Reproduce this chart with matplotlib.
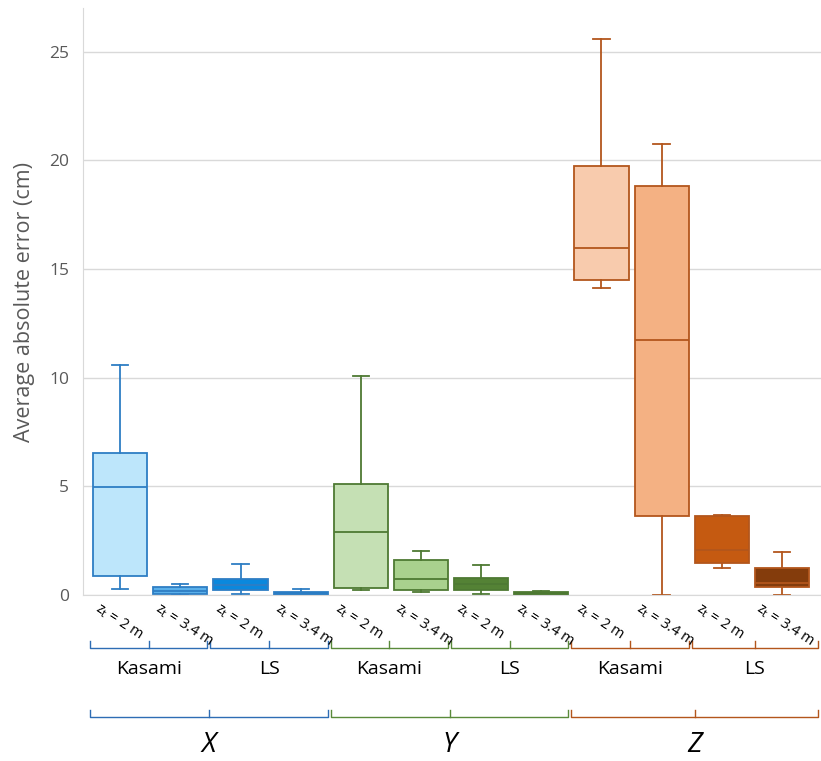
import matplotlib.pyplot as plt
import matplotlib.transforms as mtransforms

plt.rcParams['font.family'] = ['Open Sans', 'DejaVu Sans']

# box statistics (cm)
axes_names = ['X', 'Y', 'Z']
methods = ['Kasami', 'LS']
heights = ['$\\mathregular{z_t}$ = 2 m', '$\\mathregular{z_t}$ = 3.4 m']

whislo = [0.28, 0.00, 0.03, 0.00, 0.23, 0.14, 0.03, 0.00, 14.11, 0.00, 1.24, 0.00]
q1     = [0.87, 0.03, 0.23, 0.02, 0.34, 0.23, 0.23, 0.02, 14.48, 3.63, 1.47, 0.37]
med    = [4.98, 0.20, 0.45, 0.06, 2.90, 0.75, 0.49, 0.08, 15.99, 11.76, 2.07, 0.55]
q3     = [6.54, 0.35, 0.75, 0.12, 5.09, 1.60, 0.80, 0.13, 19.76, 18.84, 3.63, 1.24]
whishi = [10.57, 0.49, 1.44, 0.28, 10.06, 2.04, 1.39, 0.17, 25.60, 20.77, 3.68, 1.98]

fills = ['#BDE6FB', '#5AB0EA', '#0A88DD', '#0B6EC0',
         '#C5E0B4', '#A9D18E', '#548235', '#3E6B24',
         '#F8CBAD', '#F4B183', '#C55A11', '#843C0C']
edges = ['#2E7EC4'] * 4 + ['#4E7A33'] * 4 + ['#B3561C'] * 4
group_edge = ['#2E6DB4', '#5A8A3A', '#B3561C']

stats = []
for i in range(len(med)):
    stats.append({'whislo': whislo[i], 'q1': q1[i], 'med': med[i],
                  'q3': q3[i], 'whishi': whishi[i], 'fliers': []})

fig = plt.figure(figsize=(8.21, 7.61), dpi=100)
ax = fig.add_axes([0.101, 0.218, 0.899, 0.771])

positions = list(range(len(med)))
bp = ax.bxp(stats, positions=positions, widths=0.9, capwidths=0.27,
            patch_artist=True, showfliers=False)
for i, box in enumerate(bp['boxes']):
    box.set_facecolor(fills[i])
    box.set_edgecolor(edges[i])
    box.set_linewidth(1.3)
    bp['medians'][i].set_color(edges[i])
    bp['medians'][i].set_linewidth(1.3)
    for k in (2 * i, 2 * i + 1):
        bp['whiskers'][k].set_color(edges[i])
        bp['whiskers'][k].set_linewidth(1.3)
        bp['caps'][k].set_color(edges[i])
        bp['caps'][k].set_linewidth(1.3)

ax.set_xlim(-0.62, 11.65)
ax.set_ylim(0, 27)
ax.set_yticks([0, 5, 10, 15, 20, 25])
ax.yaxis.grid(True, color='#D9D9D9', linewidth=1.0)
ax.set_axisbelow(True)
ax.tick_params(axis='y', length=0, labelsize=12.5, labelcolor='#595959', pad=10)
ax.tick_params(axis='x', length=0, labelbottom=False)
for s in ['top', 'right']:
    ax.spines[s].set_visible(False)
ax.spines['left'].set_color('#D9D9D9')
ax.spines['bottom'].set_color('#D9D9D9')
ax.set_ylabel('Average absolute error (cm)', fontsize=15.5, color='#595959', labelpad=10)

trans = mtransforms.blended_transform_factory(ax.transData, ax.transAxes)

# rotated height labels
for i, p in enumerate(positions):
    ax.text(p - 0.40, -0.020, heights[i % 2], transform=trans, rotation=-33,
            rotation_mode='anchor', ha='left', va='center', fontsize=10.5,
            color='#000000')


def bracket(x0, x1, y, color, h=0.012):
    xm = (x0 + x1) / 2
    kw = dict(transform=trans, clip_on=False, color=color, linewidth=1.0)
    ax.plot([x0, x0, x1, x1], [y + h, y, y, y + h], **kw)
    ax.plot([xm, xm], [y, y + h], **kw)


for g in range(3):
    for m in range(2):
        x0 = 4 * g + 2 * m - 0.5
        x1 = 4 * g + 2 * m + 1.45
        if g == 2 and m == 1:
            x1 = 11.6
        bracket(x0, x1, -0.090, group_edge[g])
        ax.text((x0 + x1) / 2, -0.126, methods[m], transform=trans,
                ha='center', va='center', fontsize=14)
    gx0 = 4 * g - 0.5
    gx1 = 4 * g + 3.45 if g < 2 else 11.6
    bracket(gx0, gx1, -0.208, group_edge[g])
    ax.text((gx0 + gx1) / 2, -0.255, axes_names[g], transform=trans,
            ha='center', va='center', fontsize=20, style='italic')

fig.savefig('out.png', dpi=100)
